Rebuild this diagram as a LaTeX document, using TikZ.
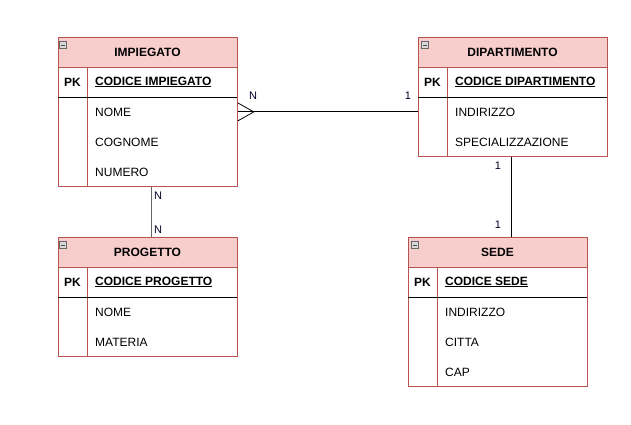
\documentclass[tikz,border=0pt]{standalone}
\usepackage{fontspec}
\setmainfont{Liberation Sans}
\definecolor{erred}{HTML}{B85450}
\definecolor{erfill}{HTML}{F8CECC}
\begin{document}
\begin{tikzpicture}[x=1pt,y=-1pt,
  tbl/.style={draw=erred, line width=0.8pt, fill=white, inner sep=0pt, anchor=north west},
  hdr/.style={draw=erred, line width=0.8pt, fill=erfill, inner sep=0pt, anchor=north west, minimum height=30pt},
  ttl/.style={font=\fontsize{12}{14}\selectfont\bfseries, inner sep=0pt},
  pk/.style={font=\fontsize{12}{14}\selectfont\bfseries, inner sep=0pt},
  key/.style={font=\fontsize{12}{14}\selectfont\bfseries, inner sep=0pt, anchor=west},
  attr/.style={font=\fontsize{12}{14}\selectfont, inner sep=0pt, anchor=west},
  sep/.style={draw=erred, line width=0.8pt},
  pksep/.style={draw=black, line width=0.8pt},
  conn/.style={draw=black, line width=0.8pt},
  card/.style={font=\fontsize{11}{13}\selectfont, inner sep=0pt, text=black!85!blue},
  mini/.style={draw=black!60, fill=black!15, line width=0.5pt},
]
\useasboundingbox (0,0) rectangle (631,425);

% ---------- IMPIEGATO ----------
\node[tbl, minimum width=179pt, minimum height=149pt] (imp) at (58,37) {};
\node[hdr, minimum width=179pt] (imph) at (58,37) {};
\node[ttl] (impt) at (147.5,52) {IMPIEGATO};
\draw[mini] (59.5,41.5) rectangle (66.5,48.5);
\draw[black!70, line width=0.6pt] (61,45) -- (65,45);
\draw[sep] (87,67) -- (87,186);
\draw[pksep] (58,97) -- (237,97);
\node[pk] (imppk) at (72.5,82) {PK};
\node[key] (impk) at (95,82) {\underline{CODICE IMPIEGATO}};
\node[attr] (imp1) at (95,112) {NOME};
\node[attr] (imp2) at (95,142) {COGNOME};
\node[attr] (imp3) at (95,172) {NUMERO};

% ---------- DIPARTIMENTO ----------
\node[tbl, minimum width=189pt, minimum height=119pt] (dip) at (418,37) {};
\node[hdr, minimum width=189pt] (diph) at (418,37) {};
\node[ttl] (dipt) at (512.5,52) {DIPARTIMENTO};
\draw[mini] (421.5,41.5) rectangle (428.5,48.5);
\draw[black!70, line width=0.6pt] (423,45) -- (427,45);
\draw[sep] (447,67) -- (447,156);
\draw[pksep] (418,97) -- (607,97);
\node[pk] (dippk) at (432.5,82) {PK};
\node[key] (dipk) at (455,82) {\underline{CODICE DIPARTIMENTO}};
\node[attr] (dip1) at (455,112) {INDIRIZZO};
\node[attr] (dip2) at (455,142) {SPECIALIZZAZIONE};

% ---------- PROGETTO ----------
\node[tbl, minimum width=179pt, minimum height=119pt] (prj) at (58,237) {};
\node[hdr, minimum width=179pt] (prjh) at (58,237) {};
\node[ttl] (prjt) at (147.5,252) {PROGETTO};
\draw[mini] (59.5,241.5) rectangle (66.5,248.5);
\draw[black!70, line width=0.6pt] (61,245) -- (65,245);
\draw[sep] (87,267) -- (87,356);
\draw[pksep] (58,297) -- (237,297);
\node[pk] (prjpk) at (72.5,282) {PK};
\node[key] (prjk) at (95,282) {\underline{CODICE PROGETTO}};
\node[attr] (prj1) at (95,312) {NOME};
\node[attr] (prj2) at (95,342) {MATERIA};

% ---------- SEDE ----------
\node[tbl, minimum width=179pt, minimum height=149pt] (sede) at (408,237) {};
\node[hdr, minimum width=179pt] (sedeh) at (408,237) {};
\node[ttl] (sedet) at (497.5,252) {SEDE};
\draw[mini] (411.5,241.5) rectangle (418.5,248.5);
\draw[black!70, line width=0.6pt] (413,245) -- (417,245);
\draw[sep] (437,267) -- (437,386);
\draw[pksep] (408,297) -- (587,297);
\node[pk] (sedepk) at (422.5,282) {PK};
\node[key] (sedek) at (445,282) {\underline{CODICE SEDE}};
\node[attr] (sede1) at (445,312) {INDIRIZZO};
\node[attr] (sede2) at (445,342) {CITTA};
\node[attr] (sede3) at (445,372) {CAP};

% ---------- connectors ----------
\draw[conn] (imp.east) -- (imp.east -| dip.west);
\draw[conn] (imp.east) ++(0,-9) -- ++(16,9) -- ++(-16,9);
\node[card] (c1) at (253,96) {N};
\node[card] (c2) at (408,96) {1};

\draw[conn, draw=black!60] ([xshift=3.5pt]imp.south) -- ([xshift=3.5pt]prj.north);
\node[card] (c3) at (158,196) {N};
\node[card] (c4) at (158,230) {N};

\draw[conn] ([xshift=-1.5pt]dip.south) -- ([xshift=-1.5pt]dip.south |- sede.north);
\node[card] (c5) at (498,166) {1};
\node[card] (c6) at (498,225) {1};
\end{tikzpicture}
\end{document}
